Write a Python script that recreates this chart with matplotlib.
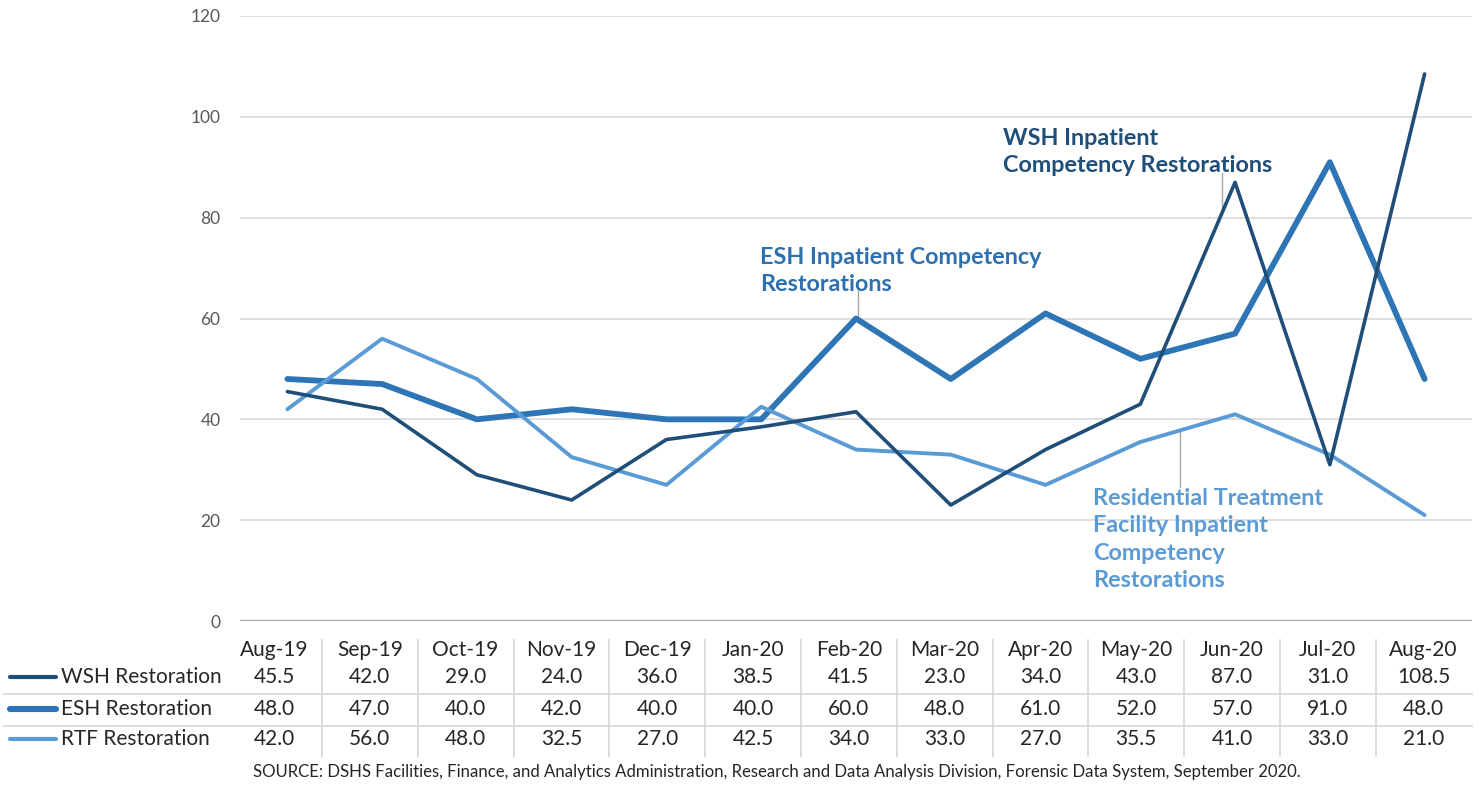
import matplotlib.pyplot as plt

months = ["Aug-19", "Sep-19", "Oct-19", "Nov-19", "Dec-19", "Jan-20", "Feb-20",
          "Mar-20", "Apr-20", "May-20", "Jun-20", "Jul-20", "Aug-20"]
wsh = [45.5, 42.0, 29.0, 24.0, 36.0, 38.5, 41.5, 23.0, 34.0, 43.0, 87.0, 31.0, 108.5]
esh = [48.0, 47.0, 40.0, 42.0, 40.0, 40.0, 60.0, 48.0, 61.0, 52.0, 57.0, 91.0, 48.0]
rtf = [42.0, 56.0, 48.0, 32.5, 27.0, 42.5, 34.0, 33.0, 27.0, 35.5, 41.0, 33.0, 21.0]
series_names = ["WSH Restoration", "ESH Restoration", "RTF Restoration"]

c_wsh = "#1F4E79"
c_esh = "#2E75B6"
c_rtf = "#5B9BD5"
plt.rcParams['font.family'] = ["Lato", "DejaVu Sans"]

W, H = 1481, 785
fig = plt.figure(figsize=(W / 100, H / 100), dpi=100)
ax = fig.add_axes([240 / W, 1 - 621 / H, (1472 - 240) / W, (621 - 16) / H])

x = list(range(len(months)))
kw = dict(solid_capstyle='round', solid_joinstyle='round')
ax.plot(x, wsh, color=c_wsh, lw=2.6, zorder=4, **kw)
ax.plot(x, esh, color=c_esh, lw=4.2, zorder=3, **kw)
ax.plot(x, rtf, color=c_rtf, lw=2.8, zorder=3, **kw)

ax.set_xlim(-0.5, len(months) - 0.5)
ax.set_ylim(0, 120)
ax.set_yticks(range(0, 121, 20))
ax.tick_params(axis='y', length=0, pad=14, labelsize=12.5, labelcolor="#595959")
ax.set_xticks([])
ax.grid(axis='y', color="#D9D9D9", lw=1.2)
ax.set_axisbelow(True)
for s in ax.spines.values():
    s.set_visible(False)
ax.axhline(0, color="#A6A6A6", lw=1.6, zorder=1)

# callout labels with leader lines
lead = dict(color="#A6A6A6", lw=1, zorder=2)
ax.text(7.55, 93.0, "WSH Inpatient\nCompetency Restorations", color=c_wsh,
        fontsize=16.8, fontweight='bold', ha='left', va='center', linespacing=1.38)
ax.plot([9.86, 9.86], [81, 88.9], **lead)
ax.text(4.99, 69.4, "ESH Inpatient Competency\nRestorations", color="#2E6FAD",
        fontsize=16.8, fontweight='bold', ha='left', va='center', linespacing=1.38)
ax.plot([6.02, 6.02], [60, 65.6], **lead)
ax.text(8.5, 16.2, "Residential Treatment\nFacility Inpatient\nCompetency\nRestorations",
        color=c_rtf, fontsize=16.8, fontweight='bold', ha='left', va='center', linespacing=1.38)
ax.plot([9.42, 9.42], [26.6, 37.8], **lead)

# data table under the chart (pixel layout)
def fy(py):
    return 1 - py / H

col0, colw = 274, 95.8
txt = "#262626"
for i, m in enumerate(months):
    fig.text((col0 + colw * i) / W, fy(650), m, ha='center', va='center',
             fontsize=15, color=txt)
for i in range(len(months) - 1):
    xd = (col0 + colw * (i + 0.5)) / W
    fig.add_artist(plt.Line2D([xd, xd], [fy(640), fy(756)], color="#D9D9D9", lw=1.3))
for py in (694, 726):
    fig.add_artist(plt.Line2D([4 / W, 1472 / W], [fy(py), fy(py)], color="#D9D9D9", lw=1.3))

rows = [wsh, esh, rtf]
colors = [c_wsh, c_esh, c_rtf]
widths = [3.0, 4.4, 3.0]
row_y = [677, 709, 739]
for name, vals, c, lw, py in zip(series_names, rows, colors, widths, row_y):
    fig.add_artist(plt.Line2D([10 / W, 56 / W], [fy(py), fy(py)], color=c, lw=lw,
                              solid_capstyle='round'))
    fig.text(61 / W, fy(py), name, ha='left', va='center', fontsize=15, color=txt)
    for i, v in enumerate(vals):
        fig.text((col0 + colw * i) / W, fy(py), f"{v:.1f}", ha='center', va='center',
                 fontsize=15, color=txt)

fig.text(253 / W, fy(772), "SOURCE: DSHS Facilities, Finance, and Analytics Administration, "
         "Research and Data Analysis Division, Forensic Data System, September 2020.",
         ha='left', va='center', fontsize=12.1, color=txt)

fig.savefig("out.png", dpi=100, facecolor="white")
